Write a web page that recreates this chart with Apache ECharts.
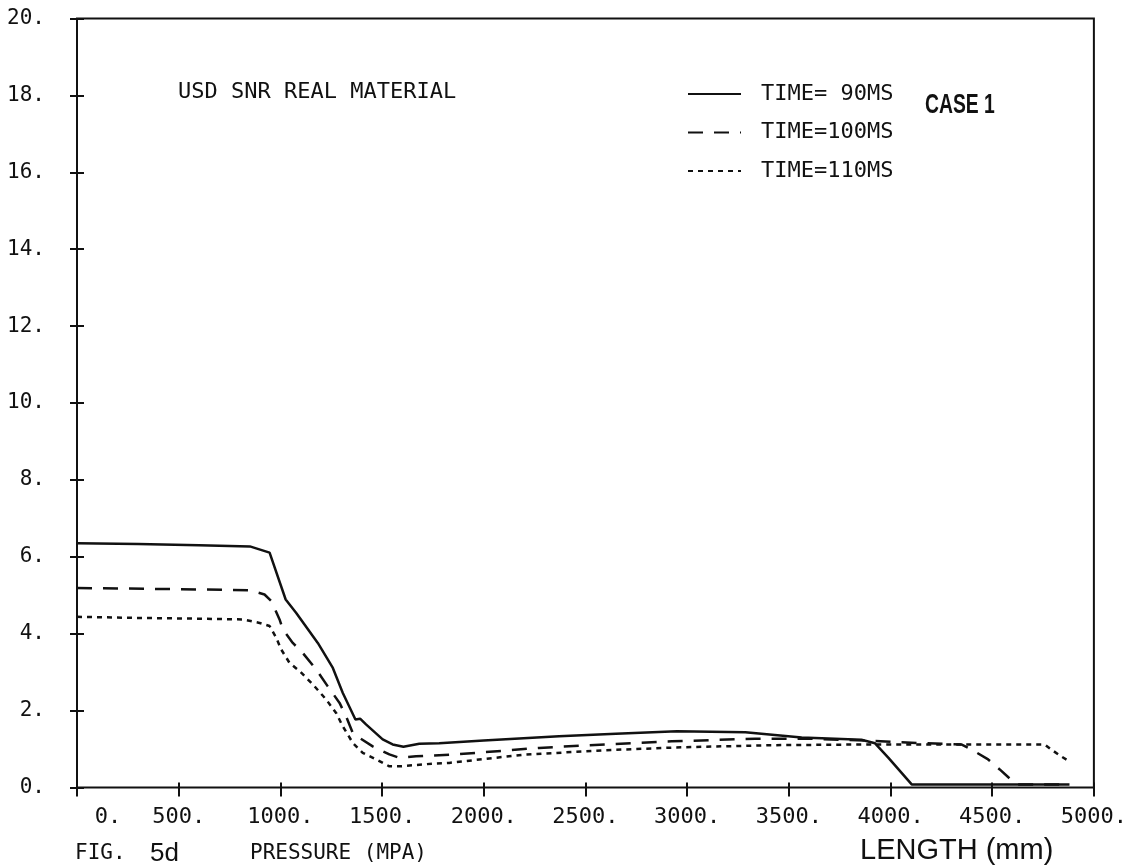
<!DOCTYPE html>
<html>
<head>
<meta charset="utf-8">
<script src="https://cdn.jsdelivr.net/npm/echarts@6/dist/echarts.min.js"></script>
<style>
html,body{margin:0;padding:0;background:#fff;}
#c{width:1130px;height:866px;}
</style>
</head>
<body>
<div id="c"></div>
<script>
// ---- data (x in mm, y in MPa) ----
const seriesNames = ['TIME= 90MS', 'TIME=100MS', 'TIME=110MS'];
const t90 = [[0,6.35],[300,6.33],[600,6.3],[850,6.27],[947,6.11],[1026,4.89],[1078,4.54],[1184,3.76],[1258,3.11],[1307,2.46],[1369,1.77],[1392,1.79],[1421,1.64],[1503,1.25],[1552,1.12],[1605,1.06],[1683,1.14],[1781,1.15],[2000,1.22],[2370,1.33],[2650,1.4],[2950,1.46],[3286,1.44],[3563,1.3],[3857,1.24],[3924,1.15],[3990,0.77],[4104,0.08],[4880,0.08]];
const t100 = [[0,5.19],[600,5.15],[850,5.13],[922,5.02],[955,4.85],[996,4.37],[1012,4.11],[1061,3.76],[1110,3.5],[1176,3.07],[1233,2.63],[1291,2.2],[1323,1.85],[1356,1.42],[1389,1.29],[1454,1.07],[1536,0.86],[1585,0.77],[1667,0.81],[1863,0.86],[2272,1.03],[2600,1.12],[2925,1.2],[3335,1.27],[3597,1.27],[3891,1.22],[4022,1.18],[4348,1.12],[4397,0.99],[4480,0.73],[4537,0.47],[4593,0.2],[4620,0.08],[4880,0.08]];
const t110 = [[0,4.44],[300,4.41],[603,4.39],[816,4.37],[898,4.28],[947,4.2],[980,3.89],[1004,3.59],[1045,3.24],[1094,3.03],[1160,2.68],[1225,2.29],[1274,1.94],[1307,1.59],[1356,1.16],[1405,0.9],[1471,0.73],[1536,0.55],[1585,0.55],[1749,0.62],[1830,0.64],[2189,0.85],[2599,0.97],[2942,1.04],[3400,1.1],[3891,1.12],[4087,1.12],[4758,1.12],[4790,0.99],[4839,0.81],[4880,0.68]];
const xMin = 0, xMax = 5000, xStep = 500;
const yMin = 0, yMax = 20, yStep = 2;

const mono = 'DejaVu Sans Mono';
const chart = echarts.init(document.getElementById('c'), null, {renderer:'canvas'});

const lineSeries = (name, data, type, width) => ({
  name, type:'line', data, symbol:'none', showSymbol:false, smooth:false,
  lineStyle:{color:'#111', width, type}, itemStyle:{color:'#111'},
  emphasis:{disabled:true}, animation:false
});

chart.setOption({
  animation:false,
  backgroundColor:'#fff',
  grid:{left:77, right:34, top:18.5, bottom:78.5, show:true, borderColor:'#111', borderWidth:2, backgroundColor:'transparent'},
  xAxis:{
    type:'value', min:xMin, max:xMax, interval:xStep, position:'bottom', offset:9,
    splitLine:{show:false},
    axisLine:{show:false, onZero:false},
    axisTick:{show:true, inside:true, length:14, lineStyle:{color:'#111', width:2}},
    axisLabel:{show:true, margin:10, color:'#111', fontFamily:mono, fontSize:22,
      formatter:v => v === 0 ? '{z|0.}' : v + '.',
      rich:{z:{fontFamily:mono, fontSize:22, color:'#111', padding:[0,0,0,62]}}
    }
  },
  yAxis:{
    type:'value', min:yMin, max:yMax, interval:yStep, position:'left', offset:7,
    splitLine:{show:false},
    axisLine:{show:false, onZero:false},
    axisTick:{show:true, inside:true, length:14, lineStyle:{color:'#111', width:2}},
    axisLabel:{show:true, margin:25, color:'#111', fontFamily:mono, fontSize:21, formatter:v => v + '.'}
  },
  legend:{
    show:true, orient:'vertical', left:687, top:77, padding:0, itemGap:4.5,
    itemWidth:53, itemHeight:14, selectedMode:false,
    data:seriesNames,
    itemStyle:{opacity:0},
    textStyle:{fontFamily:mono, fontSize:22, color:'#111', lineHeight:22, padding:[0,0,12,15]}
  },
  series:[
    lineSeries(seriesNames[0], t90, 'solid', 2.5),
    lineSeries(seriesNames[1], t100, [15,11], 2.5),
    lineSeries(seriesNames[2], t110, [5,5], 2.5)
  ],
  graphic:[
    {type:'text', left:178, top:81, style:{text:'USD SNR REAL MATERIAL', fontFamily:mono, fontSize:22, fill:'#111'}},
    {type:'text', x:925, y:91, scaleX:0.69, style:{text:'CASE 1', fontFamily:'Liberation Sans', fontWeight:'bold', fontSize:28, fill:'#111'}},
    {type:'text', left:75, top:843, style:{text:'FIG.', fontFamily:mono, fontSize:21, fill:'#111'}},
    {type:'text', left:150, top:841, style:{text:'5d', fontFamily:'Liberation Sans', fontSize:26, fill:'#111'}},
    {type:'text', left:250, top:843, style:{text:'PRESSURE (MPA)', fontFamily:mono, fontSize:21, fill:'#111'}},
    {type:'text', left:860, top:836, style:{text:'LENGTH (mm)', fontFamily:'Liberation Sans', fontSize:29, fill:'#111'}}
  ]
});
</script>
</body>
</html>
